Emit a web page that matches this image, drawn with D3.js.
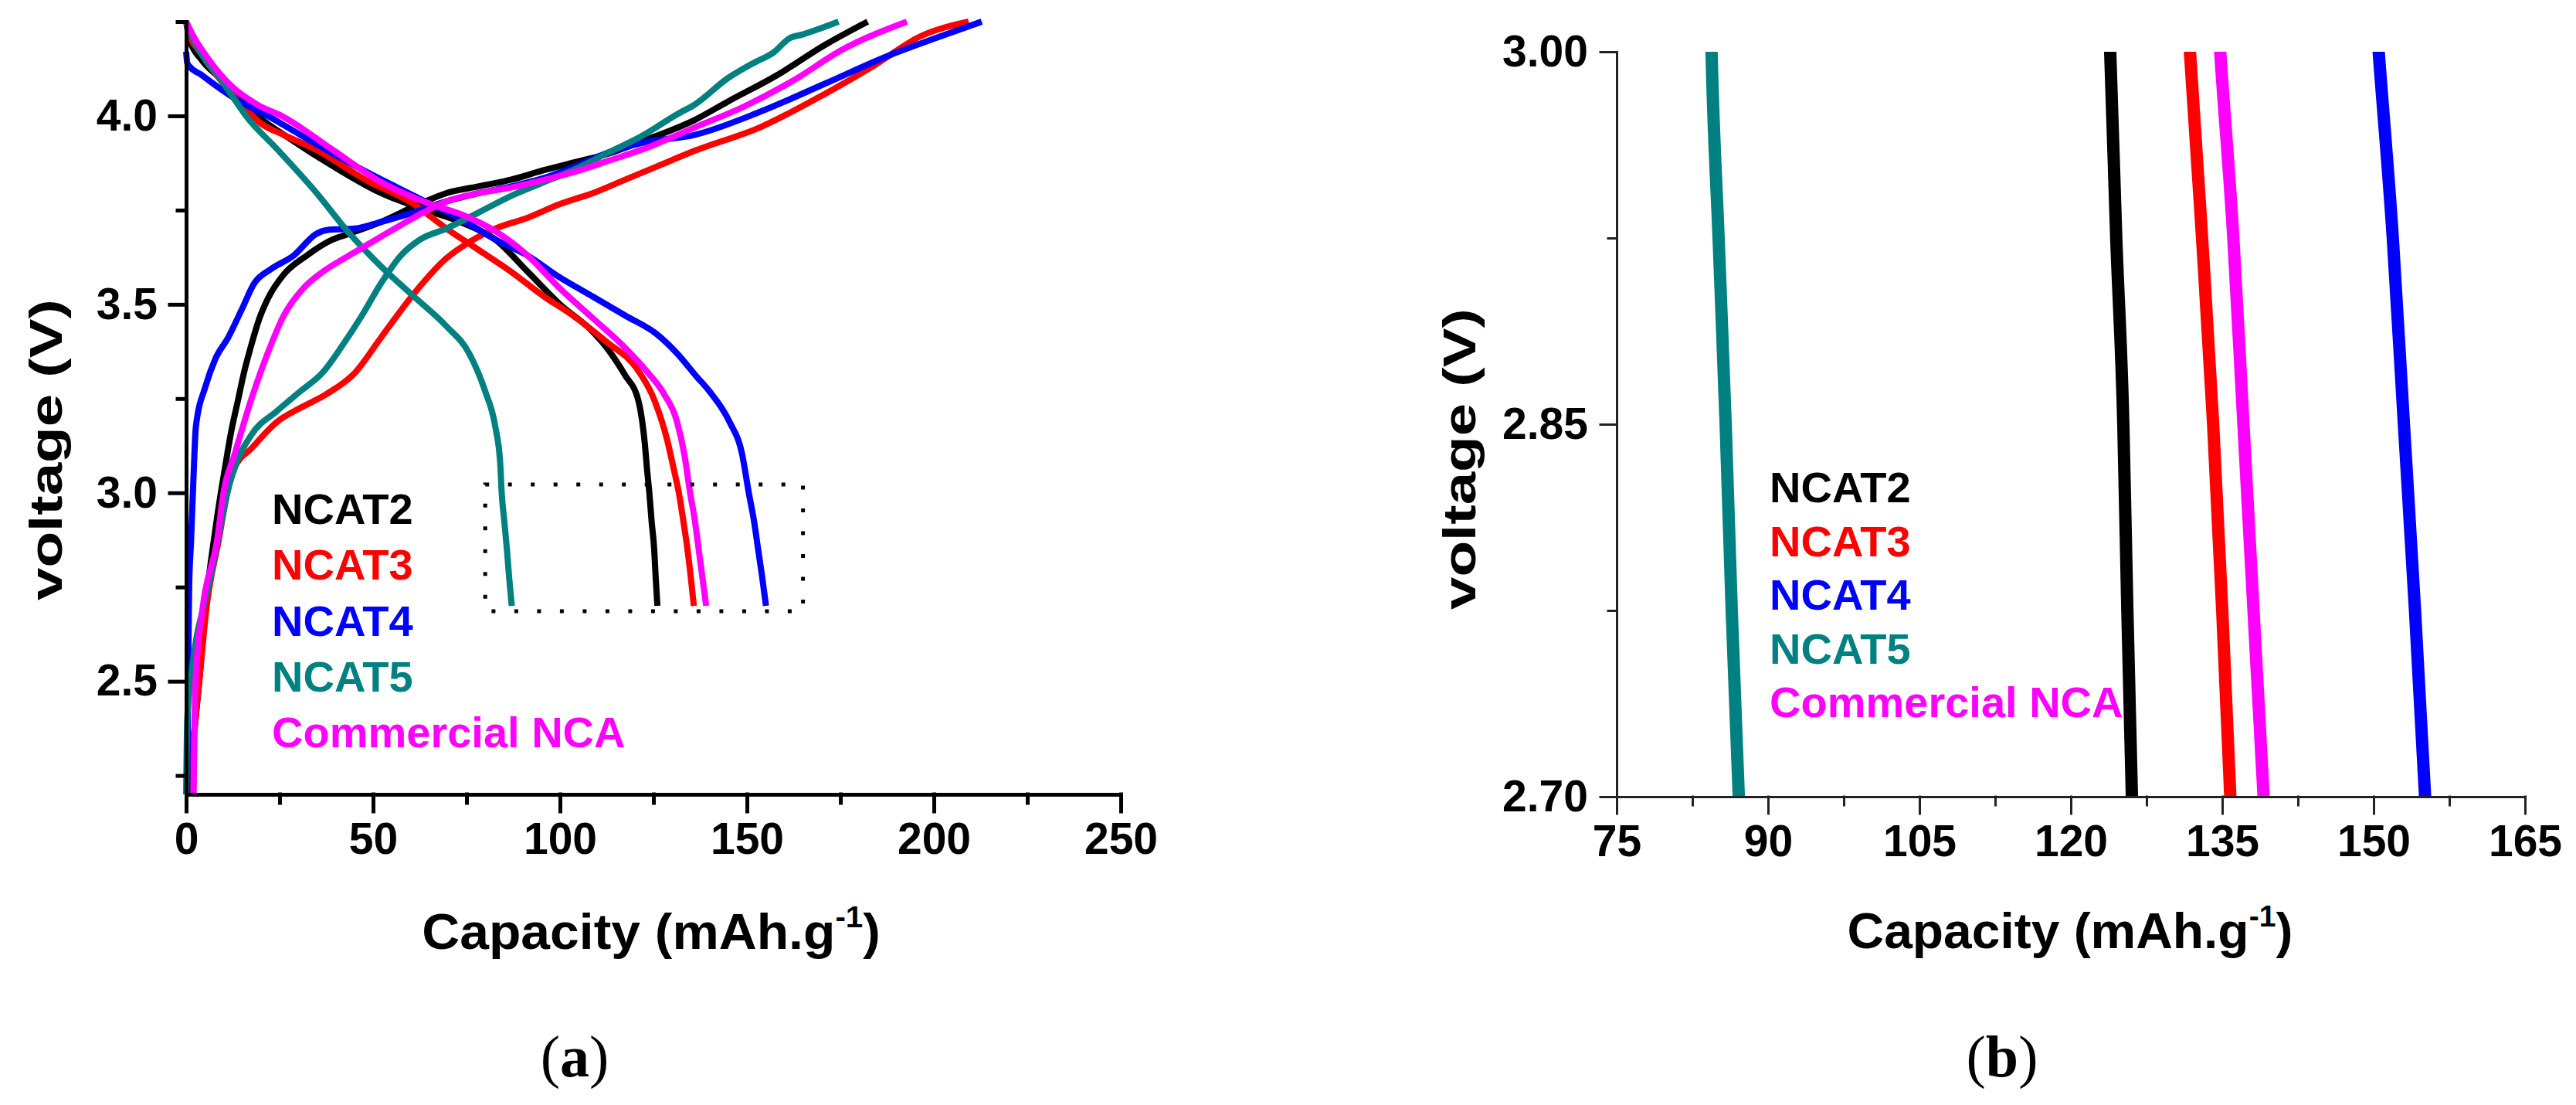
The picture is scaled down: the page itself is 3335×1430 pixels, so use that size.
<!DOCTYPE html>
<html>
<head>
<meta charset="utf-8">
<script src="https://cdn.jsdelivr.net/npm/d3@7"></script>
<style>
  body { margin: 0; background: #fff; }
  text { font-family: "Liberation Sans", Arial, sans-serif; font-weight: bold; }
</style>
</head>
<body>
<div id="chart"></div>
<script>
// ---- data: [capacity (mAh/g), voltage (V)] ----
const sampleNames = ["NCAT2", "NCAT3", "NCAT4", "NCAT5", "Commercial NCA"];

const ncat2Charge = [[0.5,2.2],[2,2.35],[3.5,2.5],[5.2,2.7],[7.4,2.874],[8.5,2.95],[10.4,3.067],[12,3.16],[13.9,3.247],[15.5,3.32],[17.4,3.391],[19.5,3.46],[21.8,3.514],[26.1,3.579],[32.2,3.629],[39.2,3.672],[43.5,3.687],[52.2,3.719],[60.9,3.759],[69.6,3.795],[78.3,3.813],[87,3.831],[95.7,3.856],[104.4,3.878],[113,3.9],[121.8,3.932],[136.2,3.99],[144.9,4.038],[157.9,4.107],[171,4.189],[182.3,4.25]];
const ncat2Discharge = [[0,4.25],[1,4.2],[4,4.15],[9,4.1],[14,4.05],[19.1,4.0],[27.8,3.939],[39.2,3.867],[52.2,3.795],[62.6,3.755],[74,3.716],[82.7,3.672],[91.4,3.586],[100,3.5],[108.8,3.427],[112.5,3.385],[117.4,3.312],[120.9,3.247],[122.6,3.139],[123.4,3.05],[123.9,3.0],[124.5,2.925],[125.2,2.85],[125.6,2.775],[126.05,2.7]];

const ncat3Charge = [[1,2.2],[2.5,2.4],[3.5,2.5],[5.5,2.7],[8.7,2.874],[11,3.0],[13,3.067],[17.4,3.117],[24.4,3.189],[30.5,3.225],[37.4,3.261],[45.2,3.319],[52.2,3.413],[60.9,3.528],[69.6,3.622],[75.7,3.665],[82.7,3.701],[91.4,3.73],[100,3.766],[108.8,3.795],[117.5,3.831],[126.2,3.867],[136.2,3.908],[153.6,3.97],[171,4.059],[184.1,4.134],[196.2,4.21],[209.3,4.25]];
const ncat3Discharge = [[0,4.25],[1.5,4.2],[3.3,4.175],[8,4.11],[14,4.04],[20,3.98],[26,3.95],[34.8,3.91],[47.9,3.831],[60.9,3.766],[69.6,3.701],[78.3,3.644],[87,3.586],[95.7,3.521],[103.5,3.47],[112.5,3.4],[120.5,3.33],[125.2,3.247],[128.7,3.139],[130.5,3.06],[131.8,3.0],[133,2.925],[134.1,2.85],[135,2.775],[135.8,2.7]];

const ncat4Charge = [[0.3,2.2],[0.5,2.5],[0.8,2.75],[1.3,2.87],[2,3.05],[2.6,3.175],[5.2,3.283],[7.8,3.355],[11.3,3.413],[14.8,3.485],[18.3,3.557],[22.6,3.593],[28.7,3.629],[34.8,3.687],[38.3,3.698],[45.2,3.701],[52.2,3.719],[60.9,3.744],[69.6,3.773],[78.3,3.795],[87,3.813],[95.7,3.835],[104.4,3.867],[113,3.903],[121.8,3.928],[136.2,3.95],[153.6,4.011],[171,4.086],[188.4,4.162],[201.5,4.21],[212.8,4.25]];
const ncat4Discharge = [[0,4.17],[0.3,4.14],[1,4.13],[3.9,4.11],[8,4.08],[14,4.04],[21.8,4.0],[34.8,3.925],[47.9,3.853],[60.9,3.788],[74,3.723],[82.7,3.672],[91.4,3.629],[100,3.571],[108,3.525],[117.5,3.47],[126,3.42],[131.3,3.37],[136.4,3.31],[140,3.269],[145.3,3.189],[148.7,3.103],[150.5,3.0],[151.9,2.925],[153,2.85],[154.1,2.775],[155.1,2.7]];

const ncat5Charge = [[0,2.2],[0.3,2.4],[1.2,2.5],[2.5,2.6],[4.7,2.7],[7,2.8],[9,2.9],[11,3.0],[13,3.067],[17.4,3.153],[24.4,3.218],[30.5,3.269],[36.5,3.319],[41.8,3.391],[47,3.47],[52.2,3.557],[57.4,3.629],[62.6,3.672],[69.6,3.701],[78.3,3.744],[87,3.788],[95.7,3.824],[104.4,3.86],[113,3.903],[121.8,3.946],[131.3,4.004],[136.2,4.031],[144.9,4.1],[151.9,4.141],[157.1,4.168],[161.4,4.206],[164.9,4.216],[174.5,4.25]];
const ncat5Discharge = [[0,4.25],[2,4.2],[5,4.15],[9,4.1],[12.5,4.05],[16,4.0],[24.5,3.91],[34.5,3.8],[43.5,3.69],[52.2,3.6],[60.9,3.521],[69.6,3.442],[75.7,3.37],[80,3.269],[82.7,3.175],[84,3.08],[84.4,3.0],[85.1,2.925],[85.8,2.85],[86.4,2.775],[87.1,2.7]];

const ncaCharge = [[2,2.2],[2.5,2.5],[4.5,2.7],[8.3,2.874],[10,3.0],[13,3.103],[17.4,3.247],[21.8,3.37],[26.1,3.47],[31.3,3.542],[36.5,3.586],[43.5,3.629],[52.2,3.68],[60.9,3.73],[69.6,3.773],[78.3,3.795],[87,3.81],[95.7,3.83],[104.4,3.853],[113,3.881],[121.8,3.91],[136.2,3.97],[149.3,4.025],[162.3,4.093],[175.4,4.175],[192.8,4.25]];
const ncaDischarge = [[0,4.25],[2,4.21],[6,4.15],[12,4.08],[19,4.03],[26.1,3.997],[39.2,3.91],[52.2,3.824],[65.3,3.766],[74,3.737],[82.7,3.694],[91.4,3.629],[100,3.542],[108.8,3.463],[117.5,3.384],[123.5,3.319],[127.9,3.261],[131.3,3.189],[133.3,3.1],[134.8,3.0],[136.1,2.925],[137.1,2.85],[138.1,2.775],[139.1,2.7]];

// axis ticks
const xTicksA = [0, 50, 100, 150, 200, 250];
const xMinorA = [25, 75, 125, 175, 225];
const yTicksA = [2.5, 3.0, 3.5, 4.0];
const yMinorA = [2.25, 2.75, 3.25, 3.75, 4.25];
const xTicksB = [75, 90, 105, 120, 135, 150, 165];
const xMinorB = [82.5, 97.5, 112.5, 127.5, 142.5, 157.5];
const yTicksB = [2.70, 2.85, 3.00];
const yMinorB = [2.775, 2.925];

// dotted zoom window drawn in (a): [cap min, cap max], [V min, V max]
const zoomBoxCap = [80, 165];
const zoomBoxV = [2.686, 3.022];

const colors = ["#000000", "#ff0000", "#0000ff", "#008080", "#ff00ff"];
const charges = [ncat2Charge, ncat3Charge, ncat4Charge, ncat5Charge, ncaCharge];
const discharges = [ncat2Discharge, ncat3Discharge, ncat4Discharge, ncat5Discharge, ncaDischarge];

const series = sampleNames.map((name, i) => ({
    name: name, color: colors[i], charge: charges[i], discharge: discharges[i]
}));

const width = 3335, height = 1430;

const svg = d3.select("#chart")
    .append("svg")
    .attr("width", width)
    .attr("height", height);

svg.append("rect").attr("width", width).attr("height", height).attr("fill", "#fff");

// draw left+bottom axes with major (labelled) and minor ticks
function drawAxes(x, y, o) {
    const xAxis = d3.axisBottom(x).tickValues(o.xTicks).tickSize(22).tickSizeOuter(0)
        .tickPadding(15).tickFormat(d3.format("d"));
    const yAxis = d3.axisLeft(y).tickValues(o.yTicks).tickSize(21).tickSizeOuter(0)
        .tickPadding(16).tickFormat(d3.format(o.yFormat));

    const gx = svg.append("g")
        .attr("transform", `translate(0,${y.range()[0]})`)
        .call(xAxis);
    svg.append("g")
        .attr("transform", `translate(0,${y.range()[0]})`)
        .call(d3.axisBottom(x).tickValues(o.xMinor).tickSize(11).tickFormat(""))
        .call(g => g.select(".domain").remove());
    const gy = svg.append("g")
        .attr("transform", `translate(${x.range()[0]},0)`)
        .call(yAxis);
    svg.append("g")
        .attr("transform", `translate(${x.range()[0]},0)`)
        .call(d3.axisLeft(y).tickValues(o.yMinor).tickSize(11).tickFormat(""))
        .call(g => g.select(".domain").remove());

    svg.selectAll("g.tick line, path.domain")
        .filter(function() { return !this.dataset.done; })
        .attr("stroke", o.axisColor)
        .attr("stroke-width", o.axisWidth)
        .attr("stroke-linecap", "square")
        .each(function() { this.dataset.done = 1; });

    [gx, gy].forEach(g => g.selectAll("text")
        .attr("font-size", 57)
        .attr("fill", "#000"));
}

const line = (x, y) => d3.line()
    .x(d => x(d[0]))
    .y(d => y(d[1]))
    .curve(d3.curveMonotoneX);

// ---------------- panel (a) ----------------
const xA = d3.scaleLinear().domain([0, 250]).range([241, 1451]);
const yA = d3.scaleLinear().domain([2.2, 4.25]).range([1028, 28]);

const lineA = line(xA, yA);
series.forEach(s => {
    [s.discharge, s.charge].forEach(d => {
        svg.append("path")
            .attr("d", lineA(d))
            .attr("fill", "none")
            .attr("stroke", s.color)
            .attr("stroke-width", 8)
            .attr("stroke-linejoin", "round");
    });
});

svg.append("rect")
    .attr("x", xA(zoomBoxCap[0]))
    .attr("y", yA(zoomBoxV[1]))
    .attr("width", xA(zoomBoxCap[1]) - xA(zoomBoxCap[0]))
    .attr("height", yA(zoomBoxV[0]) - yA(zoomBoxV[1]))
    .attr("fill", "none")
    .attr("stroke", "#000")
    .attr("stroke-width", 5)
    .attr("stroke-dasharray", "5 24.5");

drawAxes(xA, yA, {xTicks: xTicksA, xMinor: xMinorA, yTicks: yTicksA, yMinor: yMinorA,
    yFormat: ".1f", axisColor: "#000", axisWidth: 5});

// legend (a)
svg.append("g").selectAll("text")
    .data(series)
    .enter()
    .append("text")
    .attr("x", 352)
    .attr("y", (d, i) => 678 + i * 72.3)
    .attr("font-size", 56)
    .attr("fill", d => d.color)
    .text(d => d.name);

// ---------------- panel (b) ----------------
const xB = d3.scaleLinear().domain([75, 165]).range([2093, 3269]);
const yB = d3.scaleLinear().domain([2.7, 3.0]).range([1031, 67]);

svg.append("clipPath").attr("id", "clipB")
    .append("rect")
    .attr("x", 2093).attr("y", 67)
    .attr("width", 3269 - 2093).attr("height", 1031 - 67);

const lineB = line(xB, yB);
const gB = svg.append("g").attr("clip-path", "url(#clipB)");
series.forEach(s => {
    gB.append("path")
        .attr("d", lineB(s.discharge))
        .attr("fill", "none")
        .attr("stroke", s.color)
        .attr("stroke-width", 16);
});

drawAxes(xB, yB, {xTicks: xTicksB, xMinor: xMinorB, yTicks: yTicksB, yMinor: yMinorB,
    yFormat: ".2f", axisColor: "#222", axisWidth: 3});

svg.append("g").selectAll("text")
    .data(series)
    .enter()
    .append("text")
    .attr("x", 2291)
    .attr("y", (d, i) => 650 + i * 69.5)
    .attr("font-size", 56)
    .attr("fill", d => d.color)
    .text(d => d.name);

// ---------------- axis titles and panel labels ----------------
function capacityTitle(cx, cy, sx) {
    const t = svg.append("text")
        .attr("transform", `translate(${cx},${cy}) scale(${sx},1)`)
        .attr("text-anchor", "middle")
        .attr("font-size", 64)
        .attr("fill", "#000");
    t.append("tspan").text("Capacity (mAh.g");
    t.append("tspan").attr("font-size", 38).attr("dy", -28).text("-1");
    t.append("tspan").attr("dy", 28).text(")");
}
capacityTitle(843, 1228, 1.06);
capacityTitle(2680, 1227, 1.03);

// the y titles are stretched along their length in the original
function voltageTitle(bx, cy) {
    svg.append("text")
        .attr("transform", `translate(${bx},${cy}) rotate(-90)`)
        .attr("x", -195)
        .attr("font-size", 60)
        .attr("textLength", 390)
        .attr("lengthAdjust", "spacingAndGlyphs")
        .attr("fill", "#000")
        .text("voltage (V)");
}
voltageTitle(80, 582);
voltageTitle(1910, 594);

function panelLabel(cx, letter) {
    const t = svg.append("text")
        .attr("x", cx).attr("y", 1393)
        .attr("text-anchor", "middle")
        .attr("font-size", 76)
        .attr("fill", "#000")
        .style("font-family", "'Liberation Serif', 'Times New Roman', serif")
        .style("font-weight", "normal");
    t.append("tspan").text("(");
    t.append("tspan").style("font-weight", "bold").text(letter);
    t.append("tspan").text(")");
}
panelLabel(744, "a");
panelLabel(2592, "b");
</script>
</body>
</html>
